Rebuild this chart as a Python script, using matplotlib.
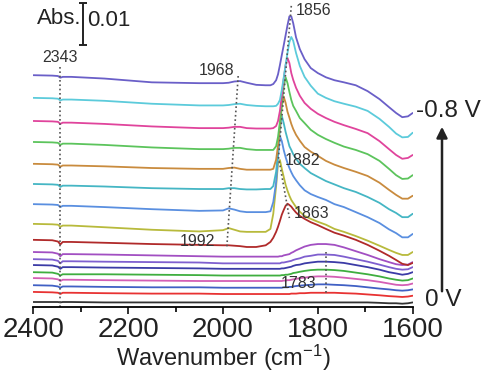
import numpy as np
import matplotlib.pyplot as plt

# === FONTS ===
plt.rcParams['font.family'] = ['Liberation Sans', 'DejaVu Sans']
plt.rcParams['mathtext.default'] = 'regular'

# === DATA (absorbance in mAbs) ===
wavenumber = [2400, 2360, 2348, 2343, 2338, 2320, 2250, 2150, 2050, 2000,
              1988, 1976, 1964, 1950, 1930, 1910, 1900, 1894,
              1888, 1884, 1880, 1876, 1872, 1868, 1864, 1860,
              1856, 1852, 1846, 1838, 1828, 1815, 1800, 1783,
              1765, 1745, 1720, 1695, 1670, 1650, 1635, 1622, 1610, 1600]

potentials = [-0.80, -0.75, -0.70, -0.65, -0.60, -0.55, -0.50, -0.45, -0.40,
              -0.35, -0.30, -0.25, -0.20, -0.15, -0.10, -0.05, 0.00]

# vertical stacking offset of each spectrum (mAbs)
offsets = [54.0, 48.6, 43.1, 38.1, 32.9, 28.1, 23.3, 18.6, 14.8,
           11.9, 10.2, 8.8, 7.1, 5.7, 4.0, 2.4, 0.0]

colors = ['#6a5fc8', '#5ccbdb', '#e0449c', '#5cc45c', '#c98b3e', '#45b6c4',
          '#5a8fe0', '#b8ba3c', '#b02a2a', '#a24fc2', '#7f5fcf', '#3b3ba6',
          '#3fae3f', '#d45fb5', '#4060c4', '#e83232', '#333333']

s_080 = [0, -0.1, -0.2, -0.6, -0.4, -0.4, -0.8, -1.7, -1.9, -1.9,
         -1.8, -1.5, -1.4, -1.8, -2.3, -2.4, -2.4, -2.1,
         -1.2, 0.2, 2.4, 4.8, 7.1, 9.5, 11.9, 14.0,
         14.0, 12.4, 9.0, 6.2, 3.8, 1.7, 0.5, -0.5,
         -1.2, -1.7, -2.4, -3.8, -5.7, -7.6, -9.0, -10.0, -9.8, -9.0]
s_075 = [0, -0.1, -0.2, -0.6, -0.4, -0.4, -0.7, -1.4, -1.8, -1.8,
         -1.7, -1.5, -1.4, -1.7, -1.9, -2.0, -2.0, -2.0,
         -1.9, -1.4, -0.5, 1.9, 4.8, 7.9, 10.7, 13.3,
         14.5, 13.6, 10.7, 7.6, 5.0, 2.9, 1.0, 0.0,
         -0.8, -1.4, -2.1, -3.1, -5.0, -6.9, -8.5, -9.4, -9.3, -8.3]
s_070 = [0, -0.1, -0.2, -0.7, -0.4, -0.4, -0.7, -1.3, -1.7, -1.7,
         -1.6, -1.4, -1.4, -1.7, -1.8, -1.8, -1.8, -1.7,
         -1.2, 0.0, 2.4, 6.0, 10.0, 13.3, 15.0, 13.8,
         11.4, 9.8, 7.9, 6.0, 4.3, 2.9, 1.7, 0.7,
         -0.2, -1.0, -1.9, -2.9, -4.8, -6.7, -8.1, -9.0, -8.8, -8.1]
s_065 = [0, -0.1, -0.2, -0.7, -0.4, -0.4, -0.7, -1.3, -1.7, -1.7,
         -1.6, -1.4, -1.4, -1.7, -1.9, -1.9, -1.9, -1.9,
         -1.0, 1.2, 4.8, 9.0, 13.1, 15.4, 14.0, 11.9,
         10.0, 8.6, 7.4, 5.7, 4.5, 2.9, 1.7, 0.7,
         -0.2, -1.1, -1.9, -2.9, -4.5, -6.4, -7.9, -8.8, -8.7, -7.9]
s_060 = [0, -0.1, -0.2, -0.7, -0.4, -0.4, -0.6, -1.0, -1.2, -1.2,
         -1.0, -0.9, -1.2, -1.4, -1.4, -1.4, -1.4, -1.2,
         1.0, 4.3, 9.0, 13.8, 16.0, 14.5, 12.4, 11.0,
         9.5, 8.3, 6.9, 5.5, 4.0, 2.9, 1.9, 0.7,
         -0.2, -1.0, -1.9, -2.9, -4.5, -6.2, -7.4, -8.3, -8.3, -7.6]
s_055 = [0, -0.1, -0.2, -0.7, -0.4, -0.4, -0.6, -1.0, -1.2, -1.2,
         -1.0, -1.0, -1.2, -1.3, -1.3, -1.2, -1.2, -0.5,
         2.9, 7.6, 13.1, 16.2, 14.5, 12.4, 10.7, 9.0,
         8.1, 7.1, 6.0, 4.8, 3.8, 2.6, 1.7, 0.7,
         -0.1, -1.0, -1.9, -3.1, -4.5, -6.0, -6.9, -7.9, -7.9, -7.1]
s_050 = [0, -0.1, -0.2, -0.7, -0.4, -0.4, -0.7, -1.2, -1.6, -1.5,
         -1.0, -1.3, -1.7, -1.9, -1.9, -1.9, -1.7, 0.5,
         5.2, 11.4, 16.2, 15.0, 12.9, 11.2, 9.8, 8.6,
         7.6, 6.7, 5.7, 4.5, 3.3, 2.4, 1.7, 1.0,
         0.0, -0.7, -1.9, -3.1, -4.5, -6.0, -6.9, -7.9, -7.9, -7.1]
s_045 = [0, -0.1, -0.2, -0.7, -0.4, -0.4, -0.8, -1.4, -1.8, -1.5,
         -1.0, -1.4, -1.8, -1.9, -1.9, -1.9, -1.2, 2.4,
         9.0, 14.3, 15.2, 13.1, 11.2, 9.3, 7.9, 6.7,
         5.7, 5.0, 4.0, 2.9, 1.9, 1.2, 0.5, -0.2,
         -1.2, -1.9, -2.9, -4.0, -5.2, -6.2, -6.9, -7.4, -7.4, -6.7]
s_040 = [0, -0.1, -0.4, -1.1, -0.5, -0.5, -0.7, -1.0, -1.2, -1.3,
         -1.3, -1.4, -1.5, -1.7, -1.7, -1.3, -0.5, 0.5,
         1.9, 3.1, 4.5, 6.0, 7.1, 8.1, 8.6, 8.3,
         7.9, 7.3, 6.5, 5.7, 5.0, 4.2, 3.5, 2.6,
         1.7, 1.0, 0.0, -1.2, -2.6, -3.8, -4.8, -5.7, -6.0, -5.5]
s_035 = [0, -0.1, -0.4, -1.0, -0.5, -0.5, -0.6, -0.8, -1.0, -1.1,
         -1.1, -1.1, -1.1, -1.1, -1.1, -1.1, -1.1, -1.1,
         -1.1, -1.1, -1.0, -1.0, -0.8, -0.7, -0.6, -0.5,
         -0.2, 0.0, 0.4, 0.8, 1.3, 1.7, 1.9, 1.9,
         1.7, 1.1, 0.2, -0.7, -1.7, -2.4, -2.9, -3.1, -3.0, -2.4]
s_030 = [0, -0.1, -0.4, -1.0, -0.5, -0.5, -0.6, -0.7, -0.8, -1.0,
         -1.0, -1.0, -1.0, -1.0, -1.0, -1.0, -1.0, -1.0,
         -1.0, -1.0, -1.0, -0.8, -0.8, -0.7, -0.6, -0.5,
         -0.4, -0.2, 0.0, 0.2, 0.6, 0.8, 1.1, 1.1,
         1.0, 0.6, 0.0, -0.6, -1.3, -1.9, -2.3, -2.5, -2.4, -1.9]
s_025 = [0, -0.1, -0.4, -0.9, -0.5, -0.5, -0.6, -0.7, -0.8, -0.9,
         -0.9, -0.9, -0.9, -0.9, -0.9, -0.9, -0.9, -0.9,
         -0.9, -0.9, -0.9, -0.8, -0.8, -0.7, -0.6, -0.5,
         -0.4, -0.2, 0.0, 0.1, 0.4, 0.6, 0.8, 0.8,
         0.7, 0.5, 0.0, -0.5, -1.1, -1.7, -2.0, -2.3, -2.1, -1.7]
s_020 = [0, -0.1, -0.4, -0.8, -0.5, -0.5, -0.5, -0.6, -0.7, -0.8,
         -0.8, -0.8, -0.8, -0.8, -0.8, -0.8, -0.8, -0.8,
         -0.8, -0.8, -0.8, -0.7, -0.7, -0.6, -0.6, -0.5,
         -0.4, -0.2, -0.1, 0.1, 0.3, 0.5, 0.6, 0.6,
         0.5, 0.3, -0.1, -0.5, -1.0, -1.5, -1.8, -2.0, -1.9, -1.5]
s_015 = [0, -0.1, -0.3, -0.7, -0.4, -0.4, -0.5, -0.6, -0.7, -0.7,
         -0.7, -0.7, -0.7, -0.7, -0.7, -0.7, -0.7, -0.7,
         -0.7, -0.7, -0.7, -0.7, -0.6, -0.6, -0.5, -0.5,
         -0.4, -0.3, -0.2, 0.0, 0.1, 0.3, 0.4, 0.4,
         0.3, 0.1, -0.2, -0.5, -0.9, -1.3, -1.6, -1.7, -1.6, -1.3]
s_010 = [0, -0.1, -0.3, -0.6, -0.3, -0.3, -0.4, -0.5, -0.5, -0.6,
         -0.6, -0.6, -0.6, -0.6, -0.6, -0.6, -0.6, -0.6,
         -0.6, -0.6, -0.6, -0.6, -0.5, -0.5, -0.5, -0.4,
         -0.4, -0.3, -0.2, -0.1, 0.0, 0.1, 0.2, 0.2,
         0.1, 0.0, -0.2, -0.5, -0.8, -1.0, -1.2, -1.3, -1.2, -1.0]
s_005 = [0, -0.1, -0.2, -0.5, -0.2, -0.2, -0.3, -0.4, -0.4, -0.5,
         -0.5, -0.5, -0.5, -0.5, -0.5, -0.5, -0.5, -0.5,
         -0.5, -0.5, -0.5, -0.5, -0.5, -0.5, -0.5, -0.5,
         -0.4, -0.4, -0.4, -0.3, -0.3, -0.2, -0.2, -0.2,
         -0.2, -0.3, -0.4, -0.6, -0.8, -1.0, -1.1, -1.2, -1.1, -0.9]
s_000 = [0, 0, 0, -0.1, 0, 0, -0.1, -0.1, -0.1, -0.1,
         -0.1, -0.1, -0.1, -0.1, -0.1, -0.1, -0.1, -0.1,
         -0.1, -0.1, -0.1, -0.1, -0.1, -0.1, -0.1, -0.1,
         -0.1, -0.1, -0.1, -0.1, -0.1, -0.1, -0.1, -0.1,
         -0.1, -0.1, -0.1, -0.1, -0.2, -0.3, -0.3, -0.4, -0.3, -0.1]

spectra = [s_080, s_075, s_070, s_065, s_060, s_055, s_050, s_045, s_040,
           s_035, s_030, s_025, s_020, s_015, s_010, s_005, s_000]

# === PLOT ===
W, H = 483, 373
fig = plt.figure(figsize=(W / 100, H / 100), dpi=100)
ax = fig.add_axes([33.3 / W, 1 - 307.3 / H, 379.4 / W, 307.3 / H])

wn = np.array(wavenumber)
for spec, off, c in zip(reversed(spectra), reversed(offsets), reversed(colors)):
    ax.plot(wn, (np.array(spec) + off) / 1000, color=c, lw=1.3,
            solid_joinstyle='round', solid_capstyle='round')

ax.set_xlim(2400, 1600)
ax.set_ylim(-1.26 / 1000, 71.9 / 1000)
for s in ['left', 'right', 'top']:
    ax.spines[s].set_visible(False)
ax.spines['bottom'].set_linewidth(1.3)
ax.set_yticks([])
ax.set_xticks([2400, 2200, 2000, 1800, 1600])
ax.set_xticks([2300, 2100, 1900, 1700], minor=True)
ax.tick_params(axis='x', which='major', direction='out', length=5, width=1.3,
               labelsize=20, pad=2, colors='#222222')
ax.tick_params(axis='x', which='minor', direction='out', length=3.5, width=1.2)
ax.set_xlabel('Wavenumber (cm$^{-1}$)', fontsize=17, labelpad=0, color='#222222')

# dotted guide lines through the band positions
dot = dict(color='#555555', lw=1.2, ls=(0, (1, 1.6)))
ax.plot([2343, 2343], [56.0 / 1000, -1.26 / 1000], clip_on=False, **dot)
ax.plot([1968, 1992], [53.8 / 1000, 12.9 / 1000], **dot)
ax.plot([1856, 1883, 1860], [70.5 / 1000, 34.5 / 1000, 20.0 / 1000], **dot)
ax.plot([1783, 1783], [11.9 / 1000, 1.7 / 1000], **dot)

lab = dict(fontsize=11.5, color='#333333', va='center')
ax.text(2343.7, 58.1 / 1000, '2343', ha='center', **lab)
ax.text(2014.6, 55.2 / 1000, '1968', ha='center', **lab)
ax.text(2054.6, 14.5 / 1000, '1992', ha='center', **lab)
ax.text(1845.8, 69.5 / 1000, '1856', ha='left', **lab)
ax.text(1869.0, 33.6 / 1000, '1882', ha='left', **lab)
ax.text(1850.0, 21.0 / 1000, '1863', ha='left', **lab)
ax.text(1841.6, 4.5 / 1000, '1783', ha='center', **lab)

# scale bar 0.01 Abs
ax.errorbar(2295, 66.2 / 1000, yerr=5.0 / 1000, color='#222222', lw=1.4,
            capsize=3, capthick=1.4, clip_on=False)
fig.text(81 / W, 1 - 19 / H, 'Abs.', ha='right', va='center', fontsize=16, color='#222222')
fig.text(87 / W, 1 - 20 / H, '0.01', ha='left', va='center', fontsize=16, color='#222222')

# potential arrow
ax.annotate('', xy=(442 / W, 1 - 124 / H), xytext=(442 / W, 1 - 294 / H),
            xycoords='figure fraction', textcoords='figure fraction',
            arrowprops=dict(arrowstyle='-|>', lw=1.8, color='#222222', mutation_scale=16))
fig.text(448 / W, 1 - 111 / H, '-0.8 V', ha='center', va='center', fontsize=17.5, color='#222222')
fig.text(443.5 / W, 1 - 300 / H, '0 V', ha='center', va='center', fontsize=17.5, color='#222222')

fig.savefig('out.png', dpi=100)
